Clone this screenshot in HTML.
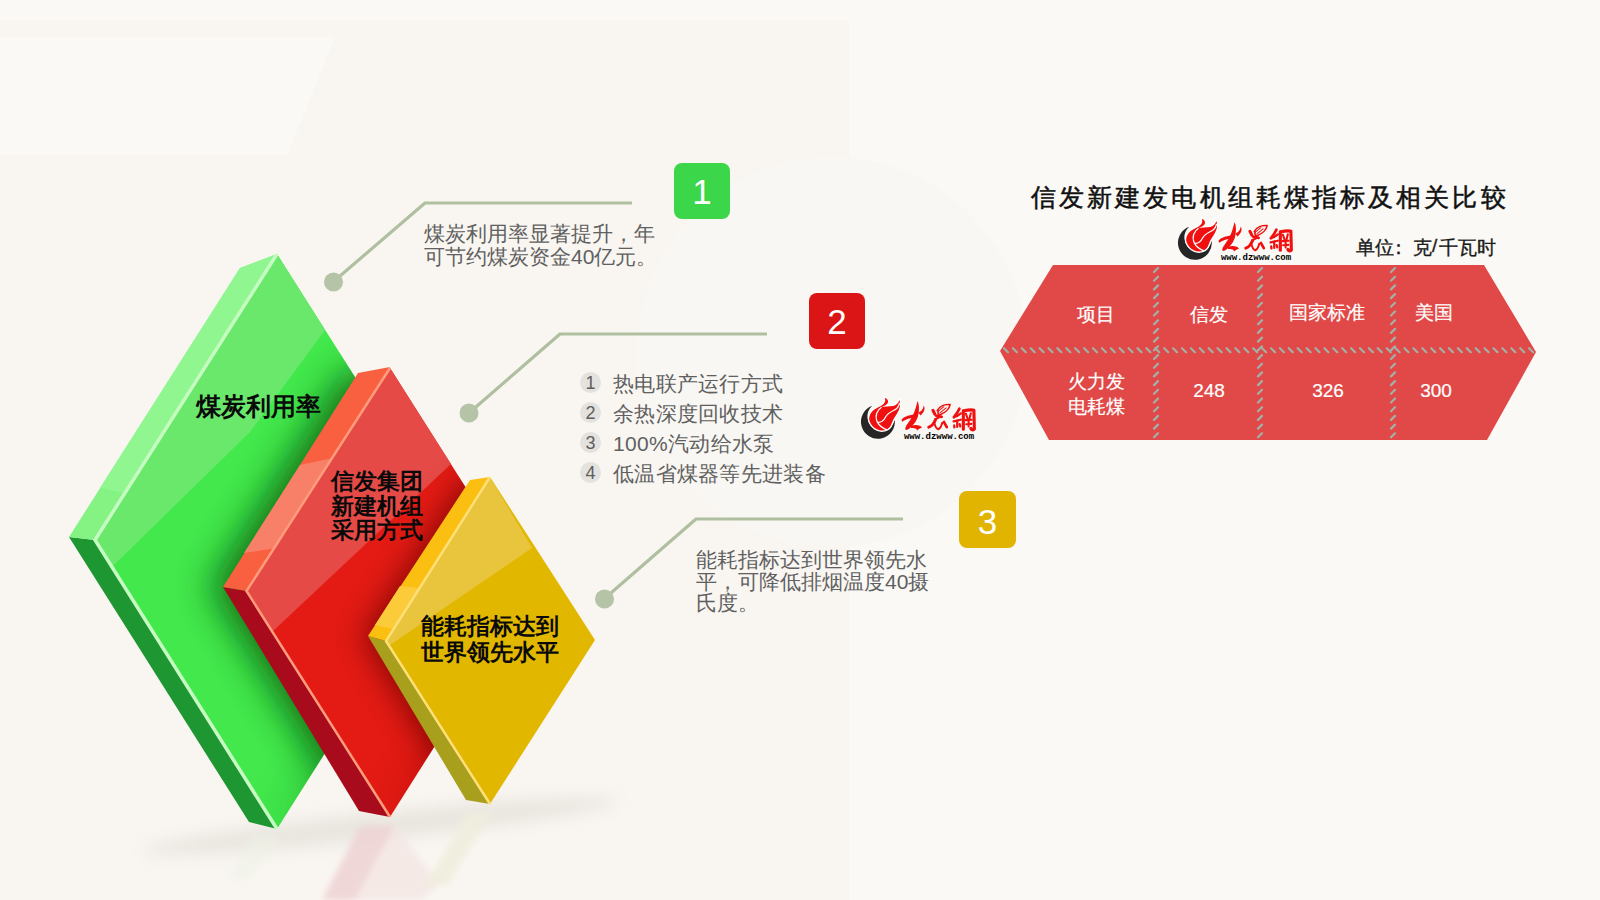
<!DOCTYPE html>
<html><head><meta charset="utf-8">
<style>
html,body{margin:0;padding:0;}
body{width:1600px;height:900px;position:relative;overflow:hidden;background:#faf9f5;font-family:"Liberation Sans",sans-serif;}
.abs{position:absolute;white-space:nowrap;}
svg{position:absolute;left:0;top:0;}
.lbl{font-weight:bold;color:#0a0a0a;}
.desc{color:#606060;font-size:21px;line-height:23px;}
.box{position:absolute;width:56px;height:56px;border-radius:8px;color:#fff;font-size:35px;text-align:center;line-height:57px;}
.li{position:absolute;left:580px;height:30px;}
.li .c{position:absolute;left:0;top:1px;width:21px;height:21px;border-radius:50%;background:#e4e2de;color:#5e5e5e;font-size:18px;line-height:23px;text-align:center;}
.li .t{position:absolute;left:33px;top:-1.5px;font-size:21px;letter-spacing:0.3px;color:#606060;white-space:nowrap;}
.unit{font-size:19px;color:#1a1a1a;-webkit-text-stroke:0.35px #1a1a1a;}
.th{position:absolute;color:#fff;-webkit-text-stroke:0.2px #fff;font-size:19px;text-align:center;white-space:nowrap;}
</style></head>
<body>
<svg width="1600" height="900" viewBox="0 0 1600 900">
  <defs>
    <filter id="bl12" x="-50%" y="-50%" width="200%" height="200%"><feGaussianBlur stdDeviation="12"/></filter>
    <filter id="bl20" x="-50%" y="-50%" width="200%" height="200%"><feGaussianBlur stdDeviation="20"/></filter>
    <filter id="bl18" x="-50%" y="-50%" width="200%" height="200%"><feGaussianBlur stdDeviation="18"/></filter>
    <filter id="bl15" x="-50%" y="-50%" width="200%" height="200%"><feGaussianBlur stdDeviation="15"/></filter>
    <filter id="bl8" x="-50%" y="-50%" width="200%" height="200%"><feGaussianBlur stdDeviation="8"/></filter>
    <filter id="bl3" x="-50%" y="-50%" width="200%" height="200%"><feGaussianBlur stdDeviation="3"/></filter>
    <filter id="bl6" x="-50%" y="-50%" width="200%" height="200%"><feGaussianBlur stdDeviation="6"/></filter>
    <clipPath id="clipG"><polygon points="277,254 95,540 277,829 459,541"/></clipPath>
    <clipPath id="clipR"><polygon points="390,368 246.5,591 390,817 532,592"/></clipPath>
  </defs>
  <!-- background left region -->
  <rect x="0" y="20" width="849" height="880" fill="#f9f6f2"/>
  <circle cx="832" cy="352" r="195" fill="#f9f7f3"/>
  <polygon points="0,37 335,37 287,155 0,155" fill="#faf9f5"/>
  <!-- floor shadow -->
  <ellipse cx="380" cy="826" rx="240" ry="14" transform="rotate(-6 380 826)" fill="#8a8470" opacity="0.14" filter="url(#bl8)"/>
  <!-- reflections -->
  <g filter="url(#bl3)">
    <polygon points="360,826 395,826 355,900 322,900" fill="#eed4d4" opacity="0.9"/>
    <polygon points="395,826 440,885 420,900 355,900" fill="#f4e6e4" opacity="0.8"/>
    <polygon points="468,812 492,812 448,885 425,885" fill="#efeedd" opacity="0.9"/>
    <polygon points="252,836 280,838 250,880 228,880" fill="#eef2e6" opacity="0.6"/>
  </g>
  <!-- connector lines -->
  <g stroke="#b0bfa0" stroke-width="3.2" fill="none" stroke-linejoin="round">
    <polyline points="333,282 425,203 632,203"/>
    <polyline points="469,413 560,334 767,334"/>
    <polyline points="604,599 696,519 903,519"/>
  </g>
  <g fill="#b5c3a6">
    <circle cx="333.5" cy="282" r="9.5"/>
    <circle cx="469" cy="413" r="9.5"/>
    <circle cx="604.5" cy="599" r="9.5"/>
  </g>

  <!-- GREEN SLAB -->
  <g>
    <polygon points="95,540 277,829 249,822 69,537" fill="#1e9631"/>
    <polygon points="277,254 95,540 69,537 240,268" fill="#84f384"/>
    <polygon points="277,254 125,493 100,488 240,268" fill="#90f68f"/>
    <polygon points="277,254 95,540 277,829 459,541" fill="#42e84c"/>
    <polygon points="277,254 95,540 112,567 250,432 325,330" fill="#69e86c"/>
    <g clip-path="url(#clipG)">
      <polygon points="345,372 210,587 350,815 600,815 600,372" fill="#0a6a18" opacity="0.95" filter="url(#bl18)"/>
      <polygon points="459,541 277,829 420,829 520,541" fill="#138a22" opacity="0.35" filter="url(#bl20)"/>
    </g>
    <polyline points="277,254 95,540 277,829" stroke="#c6fcc2" stroke-width="3.5" fill="none"/>
  </g>
  <!-- RED SLAB -->
  <g>
    <polygon points="246.5,591 390,817 359,811 223,587" fill="#a80c1c"/>
    <polygon points="390,367 246.5,591 223,587 358,373" fill="#f9603f"/>
    <polygon points="333,458 276,548 244,553 300,465" fill="#f98068"/>
    <polygon points="390,368 246.5,591 390,817 532,592" fill="#e31b14"/>
    <polygon points="390,368 246.5,591 272,632 451,464" fill="#e64a46"/>
    <g clip-path="url(#clipR)">
      <polygon points="467,478 363,636 462,803 700,803 700,478" fill="#6a0006" opacity="0.75" filter="url(#bl15)"/>
      <polygon points="532,592 390,817 500,817 600,592" fill="#900010" opacity="0.3" filter="url(#bl20)"/>
    </g>
    <polyline points="390,368 246.5,591 390,817" stroke="#ff9c7c" stroke-width="2.5" fill="none"/>
  </g>
  <!-- YELLOW SLAB -->
  <g>
    <polygon points="386,641 490,804 466,800 368,636" fill="#a8a01c"/>
    <polygon points="490,477 386,641 368,636 470,480" fill="#fbbf12"/>
    <polygon points="420,588 394,629 375,625 400,586" fill="#fccb3a"/>
    <polygon points="490,477 386,641 490,804 595,640" fill="#e2b700"/>
    <polygon points="490,477 386,641 390,645 532,548" fill="#e8c53c"/>
    <polyline points="490,477 386,641 490,804" stroke="#ffdf78" stroke-width="2.5" fill="none"/>
  </g>

  <!-- TABLE -->
  <polygon points="1053,265 1484,265 1536,352 1487,440 1049,440 1000,351" fill="#e04947"/>
  <path d="M1004.0 348.2l4 4M1012.9 348.2l4 4M1021.8 348.2l4 4M1030.7 348.2l4 4M1039.6 348.2l4 4M1048.5 348.2l4 4M1057.4 348.2l4 4M1066.3 348.2l4 4M1075.2 348.2l4 4M1084.1 348.2l4 4M1093.0 348.2l4 4M1101.9 348.2l4 4M1110.8 348.2l4 4M1119.7 348.2l4 4M1128.6 348.2l4 4M1137.5 348.2l4 4M1146.4 348.2l4 4M1155.3 348.2l4 4M1164.2 348.2l4 4M1173.1 348.2l4 4M1182.0 348.2l4 4M1190.9 348.2l4 4M1199.8 348.2l4 4M1208.7 348.2l4 4M1217.6 348.2l4 4M1226.5 348.2l4 4M1235.4 348.2l4 4M1244.3 348.2l4 4M1253.2 348.2l4 4M1262.1 348.2l4 4M1271.0 348.2l4 4M1279.9 348.2l4 4M1288.8 348.2l4 4M1297.7 348.2l4 4M1306.6 348.2l4 4M1315.5 348.2l4 4M1324.4 348.2l4 4M1333.3 348.2l4 4M1342.2 348.2l4 4M1351.1 348.2l4 4M1360.0 348.2l4 4M1368.9 348.2l4 4M1377.8 348.2l4 4M1386.7 348.2l4 4M1395.6 348.2l4 4M1404.5 348.2l4 4M1413.4 348.2l4 4M1422.3 348.2l4 4M1431.2 348.2l4 4M1440.1 348.2l4 4M1449.0 348.2l4 4M1457.9 348.2l4 4M1466.8 348.2l4 4M1475.7 348.2l4 4M1484.6 348.2l4 4M1493.5 348.2l4 4M1502.4 348.2l4 4M1511.3 348.2l4 4M1520.2 348.2l4 4M1529.1 348.2l4 4M1158.0 268.0l-4 4M1158.0 276.7l-4 4M1158.0 285.4l-4 4M1158.0 294.1l-4 4M1158.0 302.8l-4 4M1158.0 311.5l-4 4M1158.0 320.2l-4 4M1158.0 328.9l-4 4M1158.0 337.6l-4 4M1158.0 346.3l-4 4M1158.0 355.0l-4 4M1158.0 363.7l-4 4M1158.0 372.4l-4 4M1158.0 381.1l-4 4M1158.0 389.8l-4 4M1158.0 398.5l-4 4M1158.0 407.2l-4 4M1158.0 415.9l-4 4M1158.0 424.6l-4 4M1158.0 433.3l-4 4M1262.0 268.0l-4 4M1262.0 276.7l-4 4M1262.0 285.4l-4 4M1262.0 294.1l-4 4M1262.0 302.8l-4 4M1262.0 311.5l-4 4M1262.0 320.2l-4 4M1262.0 328.9l-4 4M1262.0 337.6l-4 4M1262.0 346.3l-4 4M1262.0 355.0l-4 4M1262.0 363.7l-4 4M1262.0 372.4l-4 4M1262.0 381.1l-4 4M1262.0 389.8l-4 4M1262.0 398.5l-4 4M1262.0 407.2l-4 4M1262.0 415.9l-4 4M1262.0 424.6l-4 4M1262.0 433.3l-4 4M1395.0 268.0l-4 4M1395.0 276.7l-4 4M1395.0 285.4l-4 4M1395.0 294.1l-4 4M1395.0 302.8l-4 4M1395.0 311.5l-4 4M1395.0 320.2l-4 4M1395.0 328.9l-4 4M1395.0 337.6l-4 4M1395.0 346.3l-4 4M1395.0 355.0l-4 4M1395.0 363.7l-4 4M1395.0 372.4l-4 4M1395.0 381.1l-4 4M1395.0 389.8l-4 4M1395.0 398.5l-4 4M1395.0 407.2l-4 4M1395.0 415.9l-4 4M1395.0 424.6l-4 4M1395.0 433.3l-4 4" stroke="#a2b0a8" stroke-width="2.2" stroke-linecap="round" fill="none"/>
  <defs>
    <g id="logo">
      <path d="M310,195 A305,305 0 1,0 715,445 A250,250 0 1,1 310,195 Z" fill="#262626"/>
      <path d="M535,50 C625,80 610,170 520,200 L478,218 C520,210 620,205 688,200 C740,190 780,150 800,92 C815,130 805,170 810,204 C800,260 760,340 705,414 C675,460 660,520 640,560 C610,610 560,640 478,640 C400,638 300,580 262,470 C238,380 290,290 373,246 C430,215 470,200 496,176 C530,150 560,110 535,50 Z" fill="#fff" stroke="#fff" stroke-width="50" stroke-linejoin="round"/>
      <path d="M535,50 C625,80 610,170 520,200 L478,218 C520,210 620,205 688,200 C740,190 780,150 800,92 C815,130 805,170 810,204 C800,260 760,340 705,414 C675,460 660,520 640,560 C610,610 560,640 478,640 C400,638 300,580 262,470 C238,380 290,290 373,246 C430,215 470,200 496,176 C530,150 560,110 535,50 Z" fill="#f01010"/>
      <path d="M478,221 C400,270 350,372 401,484 C429,540 492,596 576,628" stroke="#fff" stroke-width="22" fill="none"/>
      <path d="M408,491 C464,498 513,470 548,400 C590,316 653,302 716,267 C758,246 786,211 802,141" stroke="#fff" stroke-width="22" fill="none"/>
      <g fill="#f01010">
        <path d="M836,452 C870,380 1000,350 1135,345 L1125,400 C1000,410 900,440 850,480 Z"/>
        <path d="M1127,110 C1170,200 1160,420 1060,520 C1010,580 960,625 920,632 C880,610 930,540 980,470 C1060,360 1090,250 1127,110 Z"/>
        <path d="M1140,320 C1200,290 1240,240 1232,190 C1262,215 1270,290 1180,370 Z"/>
        <path d="M1000,555 C1080,525 1185,535 1205,590 C1165,600 1135,620 1115,645 C1120,612 1100,592 1010,592 Z"/>
      </g>
      <g fill="none" stroke="#f01010" stroke-linecap="round" stroke-linejoin="round">
        <path d="M1480,280 C1520,200 1620,165 1712,172 C1700,250 1620,320 1540,350 C1500,360 1480,330 1500,290" stroke-width="29"/>
        <path d="M1500,290 L1600,210 M1530,320 L1640,230" stroke-width="18"/>
        <path d="M1402,275 L1436,342" stroke-width="54"/>
        <path d="M1458,371 L1559,392" stroke-width="51"/>
        <path d="M1530,395 L1444,436" stroke-width="37"/>
        <path d="M1450,440 C1420,520 1380,560 1328,580" stroke-width="54"/>
        <path d="M1422,486 C1440,560 1470,610 1500,616 C1540,600 1560,540 1570,500" stroke-width="35"/>
        <path d="M1602,486 L1652,580" stroke-width="48"/>
        <path d="M1880,245 C1850,310 1815,360 1780,400" stroke-width="48"/>
        <path d="M1780,400 C1830,390 1870,360 1905,330" stroke-width="40"/>
        <path d="M1775,475 L1905,445" stroke-width="40"/>
        <path d="M1840,460 L1840,575 M1785,545 L1790,585 M1885,525 L1895,565" stroke-width="40"/>
        <path d="M1950,295 L1950,615" stroke-width="56"/>
        <path d="M1950,285 C2050,265 2110,262 2140,275 L2148,615 C2125,645 2100,625 2085,600" stroke-width="56"/>
        <path d="M1995,335 L2025,420 M2085,330 L2062,420 M1990,452 L2100,445 M2000,525 L2095,520 M2045,450 L2045,565" stroke-width="37"/>
      </g>
      <text x="880" y="795" font-family="Liberation Mono" font-weight="bold" font-size="165" textLength="1265" lengthAdjust="spacingAndGlyphs" fill="#000">www.dzwww.com</text>
    </g>
  </defs>
  <use href="#logo" transform="translate(855,395) scale(0.05556)"/>
  <use href="#logo" transform="translate(1172,216) scale(0.05556)"/>
</svg>

<!-- slab labels -->
<div class="abs lbl" style="left:196px;top:390px;font-size:24.9px;">煤炭利用率</div>
<div class="abs lbl" style="left:331px;top:470px;font-size:22.5px;line-height:24.5px;">信发集团<br>新建机组<br>采用方式</div>
<div class="abs lbl" style="left:421px;top:614px;font-size:22.5px;line-height:26px;">能耗指标达到<br>世界领先水平</div>

<!-- number boxes -->
<div class="box" style="left:674px;top:163px;background:#3bd649;">1</div>
<div class="box" style="left:809px;top:293px;background:#db1515;">2</div>
<div class="box" style="left:959px;top:491px;width:57px;height:57px;line-height:62px;background:#e0b400;">3</div>

<!-- descriptions -->
<div class="abs desc" style="left:424px;top:222px;">煤炭利用率显著提升，年<br>可节约煤炭资金40亿元。</div>
<div class="li" style="top:371px;"><div class="c">1</div><div class="t">热电联产运行方式</div></div>
<div class="li" style="top:401px;"><div class="c">2</div><div class="t">余热深度回收技术</div></div>
<div class="li" style="top:431px;"><div class="c">3</div><div class="t">100%汽动给水泵</div></div>
<div class="li" style="top:461px;"><div class="c">4</div><div class="t">低温省煤器等先进装备</div></div>
<div class="abs desc" style="left:696px;top:549px;line-height:21.5px;">能耗指标达到世界领先水<br>平，可降低排烟温度40摄<br>氏度。</div>

<!-- title -->
<div class="abs" style="left:1031px;top:180.5px;font-size:25px;letter-spacing:3.1px;color:#111;-webkit-text-stroke:0.5px #111;">信发新建发电机组耗煤指标及相关比较</div>
<div class="abs unit" style="left:1356px;top:235px;">单位</div>
<div class="abs unit" style="left:1389px;top:235px;">：</div>
<div class="abs unit" style="left:1413px;top:235px;">克</div>
<div class="abs unit" style="left:1432px;top:235px;">/</div>
<div class="abs unit" style="left:1439px;top:235px;">千瓦时</div>

<!-- table text -->
<div class="th" style="left:1046px;top:302px;width:100px;">项目</div>
<div class="th" style="left:1159px;top:302px;width:100px;">信发</div>
<div class="th" style="left:1277px;top:300px;width:100px;">国家标准</div>
<div class="th" style="left:1384px;top:300px;width:100px;">美国</div>
<div class="th" style="left:1046px;top:369px;width:100px;line-height:25px;">火力发<br>电耗煤</div>
<div class="th" style="left:1159px;top:380px;width:100px;">248</div>
<div class="th" style="left:1278px;top:380px;width:100px;">326</div>
<div class="th" style="left:1386px;top:380px;width:100px;">300</div>
</body></html>
